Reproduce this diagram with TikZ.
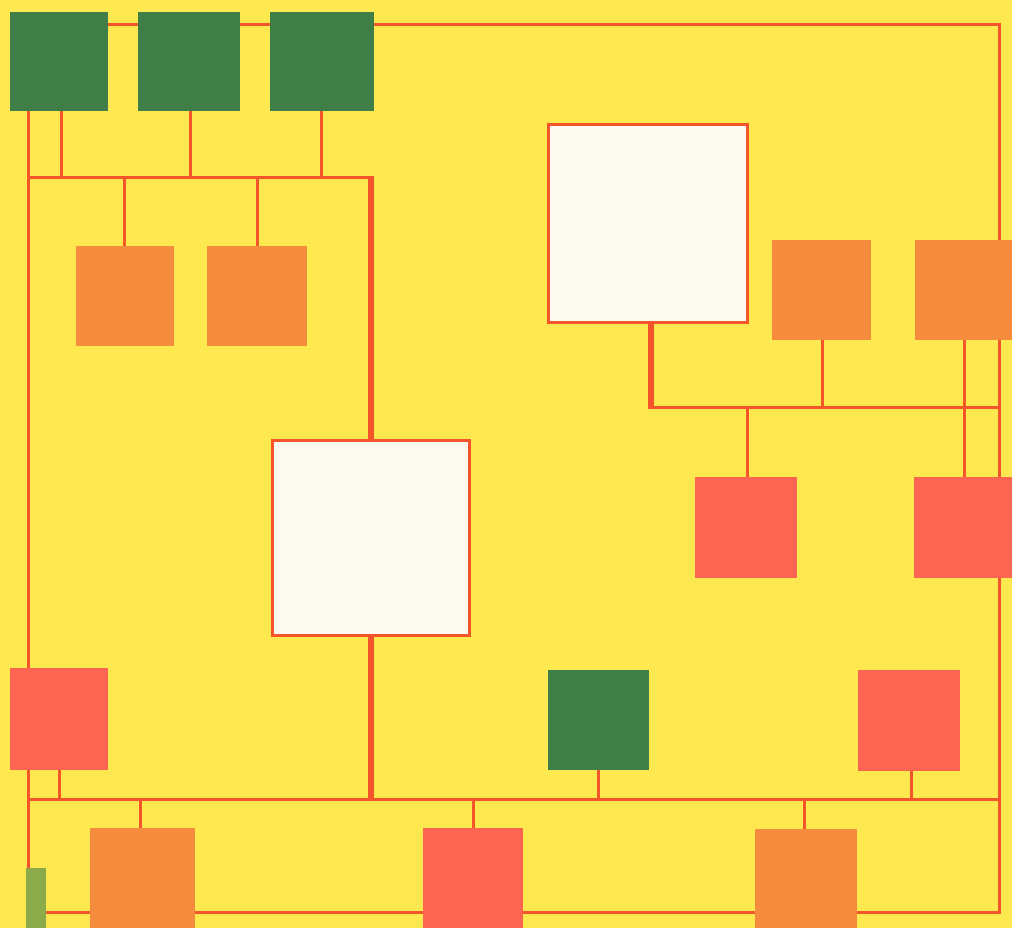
\documentclass[tikz,border=0pt]{standalone}
\definecolor{bgyellow}{HTML}{FDE94F}
\definecolor{dgreen}{HTML}{3F7F47}
\definecolor{orng}{HTML}{F58B3D}
\definecolor{rd}{HTML}{FC6551}
\definecolor{wht}{HTML}{FCFAEE}
\definecolor{ln}{HTML}{F4552B}
\definecolor{olive}{HTML}{8DAA4B}
\pgfdeclarelayer{bg}
\pgfdeclarelayer{lines}
\pgfsetlayers{bg,lines,main}
\begin{document}
\begin{tikzpicture}[x=1pt,y=-1pt,
  blk/.style={rectangle,inner sep=0pt,outer sep=0pt,draw=none},
  wbox/.style={rectangle,inner sep=0pt,outer sep=0pt,fill=wht,draw=ln,line width=3pt},
  thin/.style={draw=ln,line width=3pt},
  thick/.style={draw=ln,line width=6pt}]
\useasboundingbox (0,0) rectangle (1012,928);
\begin{pgfonlayer}{bg}
\fill[bgyellow] (0,0) rectangle (1012,928);
\end{pgfonlayer}
% boxes
\node[blk,fill=dgreen,minimum width=98pt,minimum height=99pt] (G1) at (59,61.5) {};
\node[blk,fill=dgreen,minimum width=102pt,minimum height=99pt] (G2) at (189,61.5) {};
\node[blk,fill=dgreen,minimum width=104pt,minimum height=99pt] (G3) at (322,61.5) {};
\node[blk,fill=orng,minimum width=98pt,minimum height=100pt] (O1) at (125,296) {};
\node[blk,fill=orng,minimum width=100pt,minimum height=100pt] (O2) at (257,296) {};
\node[wbox,minimum width=199pt,minimum height=198pt] (W1) at (648,223.5) {};
\node[wbox,minimum width=197pt,minimum height=195pt] (W2) at (371,538) {};
\node[blk,fill=orng,minimum width=99pt,minimum height=100pt] (O3) at (821.5,290) {};
\node[blk,fill=orng,minimum width=99pt,minimum height=100pt] (O4) at (964.5,290) {};
\node[blk,fill=rd,minimum width=102pt,minimum height=101pt] (R1) at (746,527.5) {};
\node[blk,fill=rd,minimum width=100pt,minimum height=101pt] (R2) at (964,527.5) {};
\node[blk,fill=rd,minimum width=98pt,minimum height=102pt] (R3) at (59,719) {};
\node[blk,fill=dgreen,minimum width=101pt,minimum height=100pt] (G4) at (598.5,720) {};
\node[blk,fill=rd,minimum width=102pt,minimum height=101pt] (R4) at (909,720.5) {};
\node[blk,fill=orng,minimum width=105pt,minimum height=102pt] (O5) at (142.5,879) {};
\node[blk,fill=rd,minimum width=100pt,minimum height=102pt] (R5) at (473,879) {};
\node[blk,fill=orng,minimum width=102pt,minimum height=100pt] (O6) at (806,879) {};
\node[blk,fill=olive,minimum width=20pt,minimum height=60pt] (S) at (36,898) {};
% junction coordinates
\coordinate (TR) at (999,25);
\coordinate (BR) at (999,912);
\coordinate (hA) at (28,178);
\coordinate (hB) at (371,178);
\coordinate (bL) at (28,799);
\coordinate (bR) at (999,799);
\coordinate (rA) at (651,407);
\coordinate (rB) at (999,407);
\begin{pgfonlayer}{lines}
% top line and outer border
\draw[thin] (G1.east |- TR) -- (G2.west |- TR);
\draw[thin] (G2.east |- TR) -- (G3.west |- TR);
\draw[thin] (G3.east |- TR) -- (TR) -- (BR) -- (S.east |- BR);
% left spine
\draw[thin] (G1.south -| hA) -- (S.north -| hA);
% upper-left bus
\draw[thin,line cap=rect] (hA) -- (hB);
\draw[thin] ([xshift=2pt]G1.south) -- ([xshift=2pt]G1.south |- hA);
\draw[thin] ([xshift=1pt]G2.south) -- ([xshift=1pt]G2.south |- hA);
\draw[thin] ([xshift=-1pt]G3.south) -- ([xshift=-1pt]G3.south |- hA);
\draw[thin] ([xshift=-1pt]O1.north) -- ([xshift=-1pt]O1.north |- hA);
\draw[thin] (O2.north) -- (O2.north |- hA);
\draw[thick] ([yshift=1.5pt]hB) -- (W2.north);
% lower bus
\draw[thin] (bL) -- (bR);
\draw[thick] (W2.south) -- ([yshift=-1.5pt]W2.south |- bL);
\draw[thin] (R3.south) -- (R3.south |- bL);
\draw[thin] (G4.south) -- (G4.south |- bL);
\draw[thin] ([xshift=2pt]R4.south) -- ([xshift=2pt]R4.south |- bL);
\draw[thin] ([xshift=-2.5pt]O5.north) -- ([xshift=-2.5pt]O5.north |- bL);
\draw[thin] (R5.north) -- (R5.north |- bL);
\draw[thin] ([xshift=-2pt]O6.north) -- ([xshift=-2pt]O6.north |- bL);
% right bus
\draw[thick] ([xshift=3pt]W1.south) -- ([yshift=-1.5pt]rA);
\draw[thin] (rA) -- (rB);
\draw[thin] ([xshift=0.5pt]O3.south) -- ([xshift=0.5pt]O3.south |- rA);
\draw[thin] (O4.south) -- (O4.south |- R2.north);
\draw[thin] ([xshift=1pt]R1.north) -- ([xshift=1pt]R1.north |- rA);
\end{pgfonlayer}
\end{tikzpicture}
\end{document}
